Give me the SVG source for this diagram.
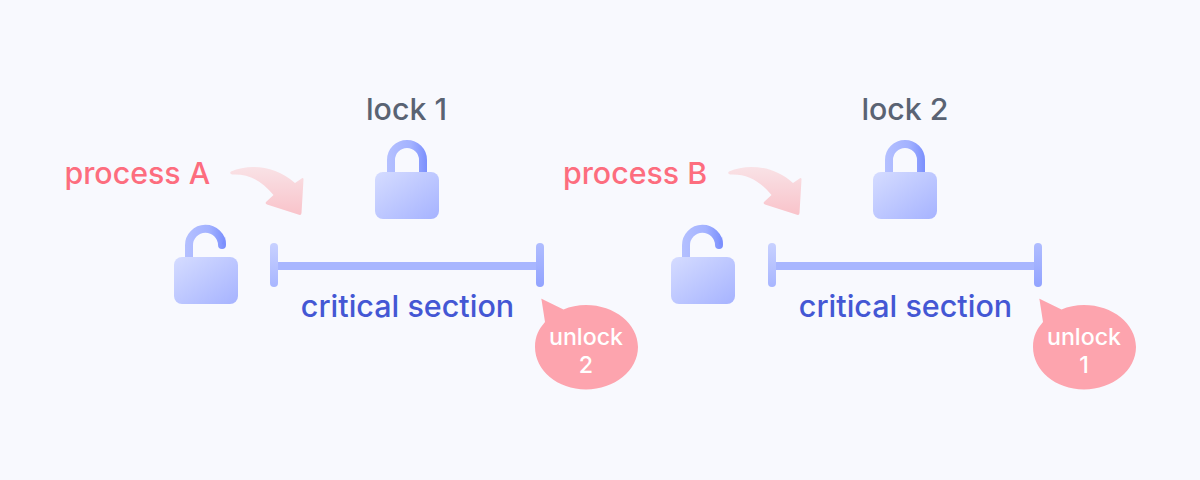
<svg xmlns="http://www.w3.org/2000/svg" width="1200" height="480" viewBox="0 0 1200 480">
<style>
text{font-family:Inter,"Liberation Sans",sans-serif;font-weight:550}
.lock{font-size:30.300px;fill:#5a6373;text-anchor:middle}
.proc{font-size:30.300px;fill:#fd6d7e}
.crit{font-size:30.500px;fill:#4457d4;text-anchor:middle}
.unl{font-size:23.200px;fill:#fff;text-anchor:middle}
.sh{fill:none;stroke:url(#sh);stroke-width:8}
.bar{fill:none;stroke-width:8;stroke-linecap:round}
</style>
<defs>
<linearGradient id="body" x1="0" y1="0" x2="1" y2="1"><stop offset="0" stop-color="#d5dcff"/><stop offset="1" stop-color="#a6b3ff"/></linearGradient>
<linearGradient id="sh" gradientUnits="userSpaceOnUse" x1="0" y1="0" x2="40" y2="0"><stop offset="0" stop-color="#b4c0ff"/><stop offset="0.6" stop-color="#a3b2ff"/><stop offset="1" stop-color="#7b8ffd"/></linearGradient>
<linearGradient id="arr" x1="0" y1="0" x2="0" y2="1"><stop offset="0" stop-color="#f9e2e6"/><stop offset="1" stop-color="#f9c3ca"/></linearGradient>
<linearGradient id="v1" gradientUnits="userSpaceOnUse" x1="0" y1="243" x2="0" y2="287"><stop offset="0" stop-color="#c8d1ff"/><stop offset="1" stop-color="#a8b6ff"/></linearGradient>
<linearGradient id="v2" gradientUnits="userSpaceOnUse" x1="0" y1="243" x2="0" y2="287"><stop offset="0" stop-color="#b0bdff"/><stop offset="1" stop-color="#92a3ff"/></linearGradient>
<g id="closed"><path class="sh" d="M4 32V20A16 16 0 0 1 36 20V32"/><rect x="-12" y="32" width="64" height="47" rx="8" fill="url(#body)"/></g>
<g id="open"><path class="sh" d="M4 34V20.500A16.500 16.500 0 0 1 37 20" stroke-linecap="round"/><path d="M40 11.500L41 20L37 19Z" fill="#7b8ffd"/><rect x="-11" y="32" width="64" height="47" rx="8" fill="url(#body)"/></g>
<path id="arrow" fill="url(#arr)" d="M231 171.500C250 163 276 166 295 183L302 178.200Q303.500 177.800 303.500 179.500L301.500 213Q301.300 215.500 299 214.800L267 204.500Q264.500 203.500 266.500 201.500L273.500 195C262 181 249 173.500 232 174.500Q229 173.500 231 171.500Z"/>
<path id="bubble" fill="#fda4ae" d="M541.500 299.500Q540.500 298.500 542 299L563.500 309.500C570 306.500 578 305 586 305C614.500 305 638 323.800 638 347C638 370.200 614.500 389.500 586 389.500C557.500 389.500 535 370.200 535 347C535 336 539 329 545 322Z"/>
</defs>
<rect width="1200" height="480" fill="#f8f9fe"/>
<g id="connectors">
<path class="bar" stroke="#a8b6ff" d="M278 266H536"/>
<path class="bar" stroke="url(#v1)" d="M274 247V283"/>
<path class="bar" stroke="url(#v2)" d="M540 247V283"/>
<path class="bar" stroke="#a8b6ff" d="M776 266H1034"/>
<path class="bar" stroke="url(#v1)" d="M772 247V283"/>
<path class="bar" stroke="url(#v2)" d="M1038 247V283"/>
<use href="#arrow"/>
<use href="#arrow" x="498"/>
</g>
<g id="process-a"><text class="proc" x="64.500" y="183.500">process A</text></g>
<g id="lock-1"><text class="lock" x="406.500" y="120">lock 1</text><use href="#closed" x="387" y="140"/></g>
<g id="open-a"><use href="#open" x="185" y="225"/></g>
<g id="critical-a"><text class="crit" x="407.500" y="317">critical section</text></g>
<g id="unlock-2"><use href="#bubble"/><text class="unl" x="586" y="345">unlock</text><text class="unl" x="586" y="373">2</text></g>
<g id="process-b"><text class="proc" x="563" y="183.500">process B</text></g>
<g id="lock-2"><text class="lock" x="905" y="120">lock 2</text><use href="#closed" x="885" y="140"/></g>
<g id="open-b"><use href="#open" x="682" y="225"/></g>
<g id="critical-b"><text class="crit" x="905.500" y="317">critical section</text></g>
<g id="unlock-1"><use href="#bubble" x="498"/><text class="unl" x="1084" y="345">unlock</text><text class="unl" x="1084" y="373">1</text></g>
</svg>
